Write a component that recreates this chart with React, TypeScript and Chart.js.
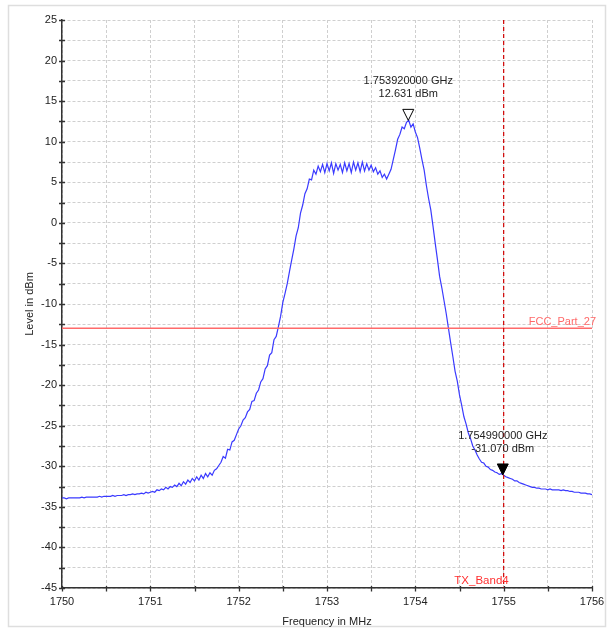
import React, { useEffect, useRef } from "react";
import { Chart, registerables } from "chart.js";

Chart.register(...registerables);

// Spectrum trace: sample grid start/step (MHz) and measured levels (dBm)
const freqStart = 1750;
const freqStep = 0.025;
const levels: number[] = [
  -33.9, -33.9, -34.0, -33.9, -33.9, -33.9, -33.9, -33.9, -33.9, -33.8,
  -33.9, -33.8, -33.8, -33.8, -33.8, -33.8, -33.8, -33.7, -33.8, -33.7,
  -33.7, -33.7, -33.7, -33.6, -33.7, -33.6, -33.6, -33.6, -33.5, -33.6,
  -33.5, -33.5, -33.4, -33.5, -33.4, -33.4, -33.3, -33.4, -33.2, -33.3,
  -33.2, -33.1, -33.2, -32.9, -33.0, -32.8, -32.9, -32.6, -32.8, -32.5,
  -32.6, -32.3, -32.5, -32.1, -32.4, -31.9, -32.2, -31.7, -32.0, -31.5,
  -31.8, -31.3, -31.7, -31.1, -31.5, -30.9, -31.3, -30.8, -31.1, -30.5,
  -30.3, -29.9, -29.5, -28.8, -29.0, -27.9, -28.0, -27.0, -26.8, -26.1,
  -25.4, -25.0, -24.3, -24.0, -23.3, -23.0, -22.0, -21.9, -21.0, -20.6,
  -19.6, -19.2, -18.0, -17.6, -16.3, -16.0, -14.4, -14.0, -12.8, -11.5,
  -9.8, -8.7, -7.5, -6.0, -4.6, -3.2, -1.6, -0.6, 1.2, 2.2,
  3.6, 4.2, 5.4, 5.3, 6.5, 6.0, 7.0, 6.3, 7.2, 6.2,
  7.3, 6.4, 7.4, 6.1, 7.3, 6.5, 7.2, 6.2, 7.4, 6.4,
  7.3, 6.2, 7.5, 6.5, 7.4, 6.3, 7.5, 6.4, 7.3, 6.5,
  7.1, 6.3, 6.8, 6.0, 6.4, 5.6, 6.0, 5.4, 6.0, 6.6,
  7.8, 9.0, 10.3, 10.9, 11.8, 11.6, 12.4, 12.63, 11.8, 12.2,
  11.2, 10.5, 9.2, 7.8, 6.5, 4.6, 3.0, 1.6, -0.4, -2.5,
  -4.5, -6.6, -8.0, -9.6, -11.2, -13.0, -14.8, -16.5, -18.3, -19.5,
  -21.2, -22.5, -23.9, -24.8, -25.9, -26.6, -27.5, -28.0, -28.6, -29.1,
  -29.5, -29.6, -30.0, -30.1, -30.4, -30.5, -30.7, -30.8, -31.0, -30.9,
  -31.1, -31.3, -31.4, -31.5, -31.6, -31.8, -31.8, -32.0, -32.1, -32.2,
  -32.3, -32.4, -32.5, -32.6, -32.6, -32.7, -32.7, -32.8, -32.8, -32.8,
  -32.9, -32.8, -32.9, -32.9, -32.9, -32.9, -33.0, -32.9, -33.0, -33.0,
  -33.1, -33.1, -33.2, -33.2, -33.2, -33.3, -33.3, -33.3, -33.4, -33.4,
  -33.5,
];

// Axis ranges
const xMin = 1750;
const xMax = 1756;
const xStep = 0.5;
const yMin = -45;
const yMax = 25;
const yStep = 2.5;

// Markers
const markerFreqs = [1753.92, 1754.99];
const markerLevels = [12.631, -31.07];
const markerLine1 = ["1.753920000 GHz", "1.754990000 GHz"];
const markerLine2 = ["12.631 dBm", "-31.070 dBm"];
const markerFilled = [false, true];

// Limit line and band edge
const limitLevel = -13;
const limitLabel = "FCC_Part_27";
const bandEdge = 1755;
const bandLabel = "TX_Band4";

const FONT = '"Liberation Sans", Arial, Helvetica, sans-serif';

const overlayPlugin = {
  id: "overlay",
  beforeDraw(chart: any) {
    const ctx = chart.ctx;
    ctx.save();
    ctx.strokeStyle = "#dedede";
    ctx.lineWidth = 1.5;
    ctx.strokeRect(8.5, 5.5, 597, 621);
    ctx.restore();
  },
  afterDatasetsDraw(chart: any) {
    const { ctx, chartArea } = chart;
    const xs = chart.scales.x;
    const ys = chart.scales.y;
    ctx.save();
    // limit line
    const ly = ys.getPixelForValue(limitLevel);
    ctx.strokeStyle = "#ff6a6a";
    ctx.lineWidth = 1.5;
    ctx.beginPath();
    ctx.moveTo(chartArea.left, ly);
    ctx.lineTo(chartArea.right, ly);
    ctx.stroke();
    ctx.font = "11px " + FONT;
    ctx.fillStyle = "#ff6a6a";
    ctx.textAlign = "right";
    ctx.textBaseline = "alphabetic";
    ctx.fillText(limitLabel, chartArea.right + 4, ly - 3);

    // band edge line
    const bx = xs.getPixelForValue(bandEdge);
    ctx.strokeStyle = "#d00000";
    ctx.lineWidth = 1.2;
    ctx.setLineDash([4, 3]);
    ctx.beginPath();
    ctx.moveTo(bx, chartArea.top);
    ctx.lineTo(bx, chartArea.bottom);
    ctx.stroke();
    ctx.setLineDash([]);
    ctx.fillStyle = "#ff3030";
    ctx.textAlign = "right";
    ctx.textBaseline = "middle";
    ctx.font = "11.5px " + FONT;
    ctx.fillText(bandLabel, bx + 5, chartArea.bottom - 7);

    // markers
    for (let i = 0; i < markerFreqs.length; i++) {
      const px = xs.getPixelForValue(markerFreqs[i]);
      const py = ys.getPixelForValue(markerLevels[i]);
      ctx.beginPath();
      ctx.moveTo(px, py);
      ctx.lineTo(px - 5.5, py - 11);
      ctx.lineTo(px + 5.5, py - 11);
      ctx.closePath();
      if (markerFilled[i]) {
        ctx.fillStyle = "#000";
        ctx.fill();
      }
      ctx.strokeStyle = "#000";
      ctx.lineWidth = 1;
      ctx.stroke();
      ctx.fillStyle = "#222";
      ctx.font = "11px " + FONT;
      ctx.textAlign = "center";
      ctx.textBaseline = "middle";
      ctx.fillText(markerLine1[i], px, py - 39);
      ctx.fillText(markerLine2[i], px, py - 26);
    }
    ctx.restore();
  },
  afterDraw(chart: any) {
    const { ctx, chartArea } = chart;
    const xs = chart.scales.x;
    const ys = chart.scales.y;
    ctx.save();
    ctx.strokeStyle = "#333";
    ctx.lineWidth = 1.3;
    ctx.beginPath();
    xs.ticks.forEach((t: any) => {
      const px = Math.round(xs.getPixelForValue(t.value)) + 0.5;
      ctx.moveTo(px, chartArea.bottom - 2);
      ctx.lineTo(px, chartArea.bottom + 3.5);
    });
    ys.ticks.forEach((t: any) => {
      const py = Math.round(ys.getPixelForValue(t.value)) + 0.5;
      ctx.moveTo(chartArea.left - 3, py);
      ctx.lineTo(chartArea.left + 3, py);
    });
    ctx.stroke();
    ctx.restore();
  },
};

export default function App() {
  const ref = useRef<HTMLCanvasElement>(null);
  useEffect(() => {
    if (!ref.current) return;
    const points = levels.map((v, i) => ({ x: freqStart + i * freqStep, y: v }));
    const chart = new Chart(ref.current, {
      type: "line",
      data: {
        datasets: [
          {
            data: points,
            borderColor: "#3a3aff",
            borderWidth: 1.2,
            pointRadius: 0,
            tension: 0,
            fill: false,
          },
        ],
      },
      options: {
        animation: false,
        responsive: false,
        devicePixelRatio: 1,
        layout: { padding: { left: 0, right: 15, top: 20, bottom: 0 } },
        plugins: {
          legend: { display: false },
          tooltip: { enabled: false },
        },
        scales: {
          x: {
            type: "linear",
            min: xMin,
            max: xMax,
            afterFit(scale: any) {
              scale.height = 42;
              scale.paddingLeft = 0;
              scale.paddingRight = 0;
            },
            ticks: {
              stepSize: xStep,
              autoSkip: false,
              maxRotation: 0,
              padding: 7,
              color: "#222",
              font: { family: FONT, size: 11 },
              callback: (v: any) => (Math.abs(v % 1) < 1e-6 ? String(v) : ""),
            },
            grid: { color: "#cfcfcf", lineWidth: 1, drawTicks: false },
            border: { display: true, color: "#333", width: 1.5, dash: [3, 2] },
            title: {
              display: true,
              text: "Frequency in MHz",
              color: "#222",
              font: { family: FONT, size: 11 },
              padding: { top: 0, bottom: 1.4 },
            },
          },
          y: {
            type: "linear",
            min: yMin,
            max: yMax,
            afterFit(scale: any) {
              scale.width = 62;
              scale.paddingTop = 0;
              scale.paddingBottom = 0;
            },
            ticks: {
              stepSize: yStep,
              autoSkip: false,
              padding: 5,
              color: "#222",
              font: { family: FONT, size: 11 },
              callback: (v: any) => (Math.abs(v % 5) < 1e-6 ? String(v) : ""),
            },
            grid: { color: "#cfcfcf", lineWidth: 1, drawTicks: false },
            border: { display: true, color: "#333", width: 1.5, dash: [3, 2] },
            title: {
              display: true,
              text: "Level in dBm",
              color: "#222",
              font: { family: FONT, size: 11 },
              padding: { top: 23.4, bottom: 0 },
            },
          },
        },
      },
      plugins: [overlayPlugin],
    });
    return () => chart.destroy();
  }, []);
  return (
    <div style={{ position: "absolute", left: 0, top: 0, width: 607, height: 630 }}>
      <canvas ref={ref} width={607} height={630} />
    </div>
  );
}
